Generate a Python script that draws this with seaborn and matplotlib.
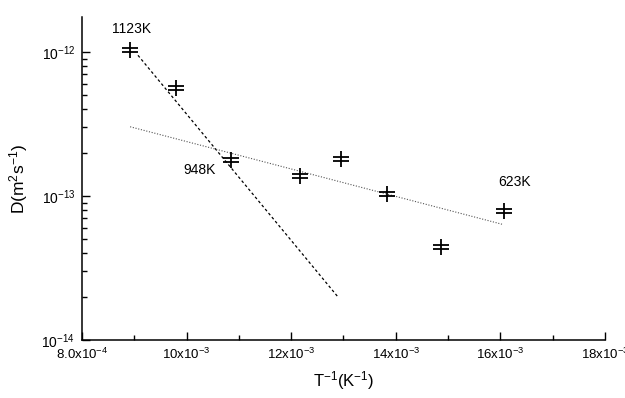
import numpy as np
import matplotlib
matplotlib.use("Agg")
import matplotlib.pyplot as plt
from matplotlib.path import Path
from matplotlib.ticker import LogLocator, NullFormatter, FixedLocator
import seaborn as sns

# measured points, 1/T in K^-1 and D in m^2 s^-1
inv_T = [8.92e-4, 9.80e-4, 10.84e-4, 12.17e-4, 12.95e-4, 13.84e-4, 14.86e-4, 16.06e-4]
D = [1.03e-12, 5.6e-13, 1.78e-13, 1.37e-13, 1.81e-13, 1.03e-13, 4.45e-14, 7.9e-14]

# two Arrhenius fits (end points)
fit_hi_x = [9.07e-4, 12.91e-4]
fit_hi_y = [9.5e-13, 1.96e-14]
fit_lo_x = [8.92e-4, 16.04e-4]
fit_lo_y = [3.03e-13, 6.36e-14]

xticks = [8e-4, 10e-4, 12e-4, 14e-4, 16e-4, 18e-4]
xtick_labels = [r"8.0x10$^{-4}$", r"10x10$^{-3}$", r"12x10$^{-3}$",
                r"14x10$^{-3}$", r"16x10$^{-3}$", r"18x10$^{-3}$"]
yticks = [1e-14, 1e-13, 1e-12]
ytick_labels = [r"10$^{-14}$", r"10$^{-13}$", r"10$^{-12}$"]

temp_labels = ["1123K", "948K", "623K"]
temp_pos = [(8.94e-4, 1.45e-12), (10.24e-4, 1.52e-13), (16.28e-4, 1.25e-13)]

sns.set_style("ticks")
plt.rcParams["font.family"] = ["Liberation Sans", "DejaVu Sans"]
plt.rcParams["mathtext.fontset"] = "custom"
plt.rcParams["mathtext.rm"] = "Liberation Sans"
plt.rcParams["mathtext.it"] = "Liberation Sans:italic"
for key in ["text.color", "axes.labelcolor", "xtick.color", "ytick.color", "axes.edgecolor"]:
    plt.rcParams[key] = "black"

# double-bar cross marker
marker = Path([(0, -1), (0, 1), (-1, 0.22), (1, 0.22), (-1, -0.22), (1, -0.22)],
              [Path.MOVETO, Path.LINETO, Path.MOVETO, Path.LINETO, Path.MOVETO, Path.LINETO])

fig = plt.figure(figsize=(6.25, 3.98), dpi=100)
ax = fig.add_axes([0.1312, 0.1457, 0.8368, 0.8113])

sns.lineplot(x=fit_hi_x, y=fit_hi_y, ax=ax, color="black", lw=0.9)
ax.lines[-1].set_dashes((2.2, 2))
sns.lineplot(x=fit_lo_x, y=fit_lo_y, ax=ax, color="#555555", lw=0.8)
ax.lines[-1].set_dashes((1, 1.5))
ax.plot(inv_T, D, linestyle="none", marker=marker, markersize=11,
        color="black", markeredgewidth=1.3)

for lab, (tx, ty) in zip(temp_labels, temp_pos):
    ax.text(tx, ty, lab, fontsize=10, ha="center", va="center")

ax.set_yscale("log")
ax.set_xlim(8e-4, 18e-4)
ax.set_ylim(1e-14, 1.75e-12)
ax.xaxis.set_major_locator(FixedLocator(xticks))
ax.set_xticklabels(xtick_labels, fontsize=9.5)
ax.xaxis.set_minor_locator(FixedLocator([9e-4, 11e-4, 13e-4, 15e-4, 17e-4]))
ax.set_yticks(yticks)
ax.set_yticklabels(ytick_labels, fontsize=10)
ax.yaxis.set_minor_locator(LogLocator(base=10, subs=np.arange(2, 10)))
ax.yaxis.set_minor_formatter(NullFormatter())
ax.tick_params(which="major", direction="in", length=6, width=1, pad=5)
ax.tick_params(which="minor", direction="in", length=3.5, width=1)

for s in ["top", "right"]:
    ax.spines[s].set_visible(False)
for s in ["left", "bottom"]:
    ax.spines[s].set_linewidth(1.1)

ax.set_xlabel(r"T$^{-1}$(K$^{-1}$)", fontsize=12, labelpad=5)
ax.set_ylabel(r"D(m$^2$s$^{-1}$)", fontsize=12.5, labelpad=8)

fig.savefig("out.png", dpi=100)
